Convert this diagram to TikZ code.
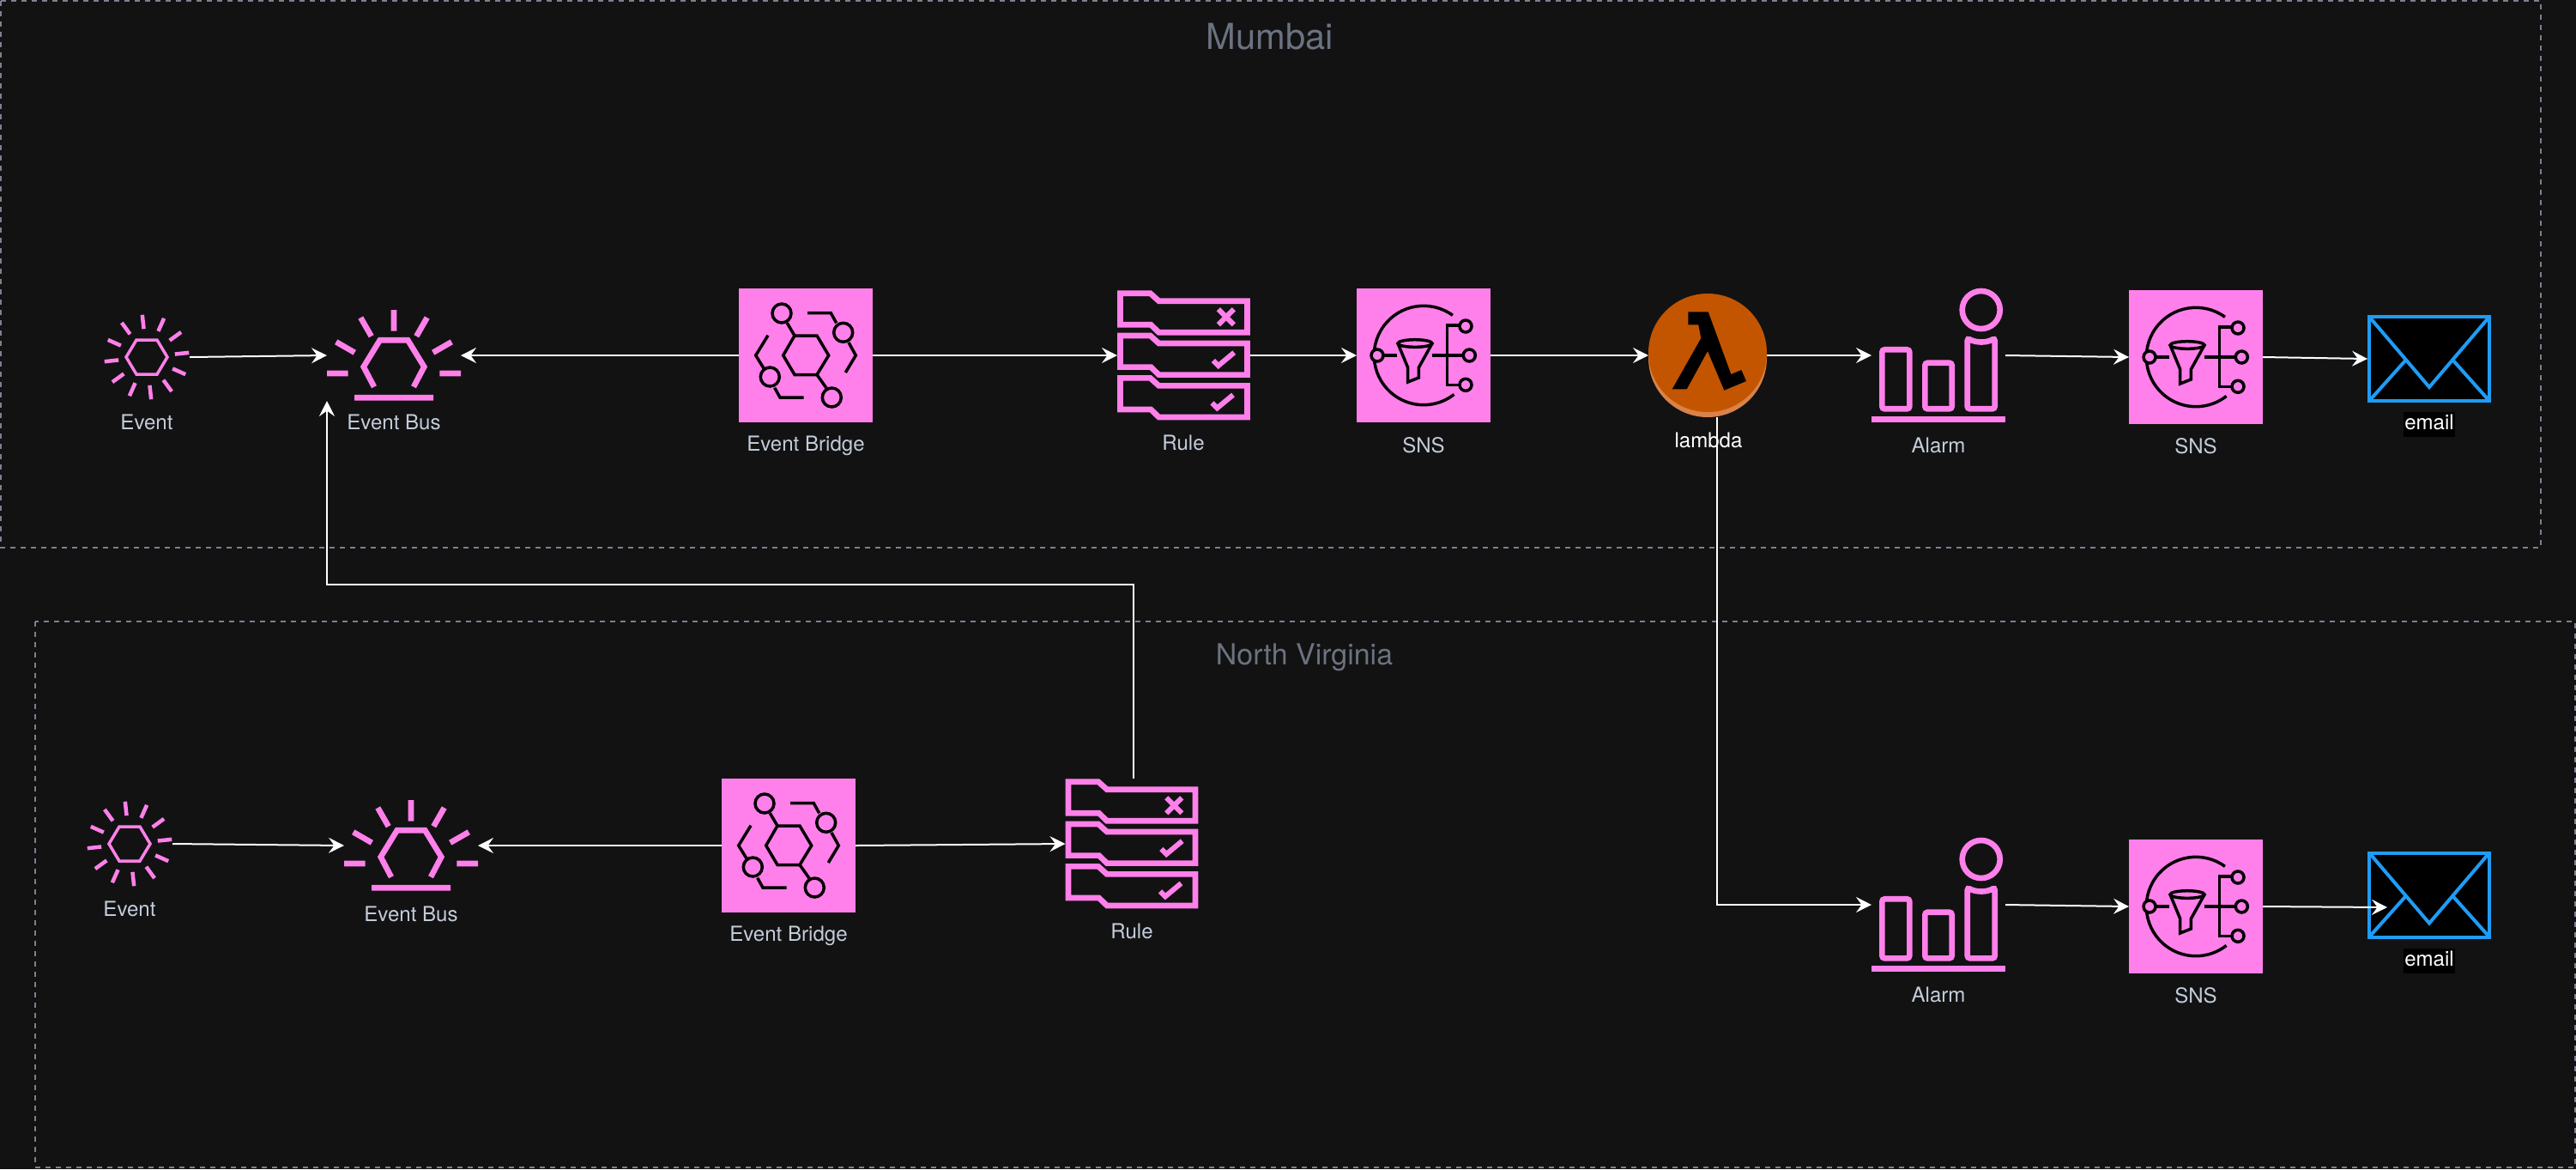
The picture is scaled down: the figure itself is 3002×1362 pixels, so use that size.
\documentclass[tikz,border=0pt]{standalone}
\usepackage{fontspec}
\setmainfont{TeX Gyre Heros}
\usetikzlibrary{arrows.meta}
\definecolor{darkbg}{HTML}{121212}
\definecolor{iconpink}{HTML}{FF80EA}
\definecolor{mailblue}{HTML}{1F9CF5}
\definecolor{framegray}{HTML}{7C8090}
\definecolor{titlegray}{HTML}{6B7280}
\definecolor{labelgray}{HTML}{C3CCDB}
\definecolor{lamorange}{HTML}{C45500}
\definecolor{lamshade}{HTML}{D9824A}
\tikzset{
  spot/.style={inner sep=0pt,outer sep=0pt},
  evspot/.style={spot,minimum width=20mm,minimum height=20mm},
  busspot/.style={spot,minimum width=31.2mm,minimum height=21.2mm},
  boxspot/.style={spot,fill=iconpink,minimum width=31.2mm,minimum height=31.2mm},
  rulespot/.style={spot,minimum width=31mm,minimum height=30.4mm},
  lamspot/.style={spot,minimum width=27.6mm,minimum height=28.8mm},
  mailspot/.style={draw=mailblue,fill=black,line width=.8mm,inner sep=0pt,minimum width=28mm,minimum height=19.6mm},
  lbl/.style={anchor=base,inner sep=0pt,text=labelgray,font=\fontsize{13.7}{16}\selectfont},
  whitelbl/.style={lbl,text=white},
  maillbl/.style={whitelbl,fill=black,text height=4mm,text depth=1.8mm,inner xsep=.2mm},
  region/.style={draw=framegray,line width=.4mm,dash pattern=on 1.2mm off 1.2mm},
  flow/.style={draw=white,line width=.4mm,-{Stealth[length=3.6mm,width=3.6mm,inset=1.3mm]}},
  ink/.style={draw=black,line width=.7mm},
  pinkthin/.style={draw=iconpink,line width=.7mm},
  pinkray/.style={draw=iconpink,line width=.9mm},
  pinkthick/.style={draw=iconpink,line width=1.33mm},
  ringdot/.style={ink,fill=iconpink},
  eventicon/.pic={
    \draw[pinkthin] (-24,0) -- (-12,20) -- (12,20) -- (24,0) -- (12,-20) -- (-12,-20) -- cycle;
    \draw[pinkray] (96:33) -- (96:49.5) (66:33) -- (66:49.5) (36:33) -- (36:49.5) (6:33) -- (6:49.5)
      (-24:33) -- (-24:49.5) (-54:33) -- (-54:49.5) (-84:33) -- (-84:49.5) (-114:33) -- (-114:49.5)
      (-144:33) -- (-144:49.5) (-174:33) -- (-174:49.5) (156:33) -- (156:49.5) (126:33) -- (126:49.5);
  },
  busicon/.pic={
    \draw[pinkthick] (-23,-36.7) -- (-35.3,-13.3) -- (-16.3,17.7) -- (16.3,17.7) -- (35.3,-13.3) -- (23,-36.7);
    \draw[pinkthick] (0,53) -- (0,28.3) (-38.7,44) -- (-26.3,22.3) (38.7,44) -- (26.3,22.3)
      (-67.3,15.7) -- (-45.7,3.3) (67.3,15.7) -- (45.7,3.3)
      (-78,-21) -- (-53.3,-21) (78,-21) -- (53.3,-21) (-46,-49.3) -- (46,-49.3);
  },
  bridgeicon/.pic={
    \draw[ink] (-26.3,0) -- (-13,23) -- (13,23) -- (26.7,0) -- (13,-22.5) -- (-13,-22.5) -- cycle;
    \draw[ink] (-13,23) -- (-21.7,37.7) (13,-22.5) -- (24,-38);
    \draw[ink] (2,49.3) -- (29.3,49.3) -- (35.7,37.7) (50,15) -- (58.3,0) -- (46.3,-20);
    \draw[ink] (-44,23.3) -- (-58.3,0) -- (-49,-15) (-36.3,-37.7) -- (-30,-49) -- (-2.3,-49);
    \draw[ringdot] (-28,49) circle[radius=11];
    \draw[ringdot] (43.7,26.7) circle[radius=11];
    \draw[ringdot] (-41.7,-25) circle[radius=11];
    \draw[ringdot] (30.3,-49) circle[radius=11];
  },
  snsicon/.pic={
    \draw[ink] (54:57.7) arc[start angle=54,end angle=308,radius=57.7];
    \draw[ink] (-45.7,0) -- (-30.7,0) (10.3,0) -- (45,0);
    \draw[ink] (41,35) -- (27.7,35) -- (27.7,-34.3) -- (41,-34.3);
    \draw[ink] (-30,14) -- (-18.3,-14.3) -- (-18.3,-31) -- (-5.7,-26) -- (-5.7,-14.3) -- (10,14);
    \draw[ink] (-10,14) ellipse[x radius=20,y radius=4.3];
    \draw[ringdot] (-54,0) circle[radius=7];
    \draw[ringdot] (49,34) circle[radius=7];
    \draw[ringdot] (53.3,0) circle[radius=7];
    \draw[ringdot] (49,-34.3) circle[radius=7];
  },
  ruletag/.pic={
    \draw[pinkthick] (-74,72.3) -- (-39,72.3) -- (-29,63.3) -- (74,63.3) -- (74,26.7) -- (-29,26.7) -- (-38.3,35.7) -- (-74,35.7) -- cycle;
  },
  ruleicon/.pic={
    \pic at (0,0) {ruletag};
    \pic at (0,-49.3) {ruletag};
    \pic at (0,-98.7) {ruletag};
    \draw[draw=iconpink,line width=1.2mm] (40.3,35.7) -- (58.3,53.7) (40.3,53.7) -- (58.3,35.7);
    \draw[draw=iconpink,line width=1.2mm] (34.3,-6) -- (40.3,-12) -- (58.7,3.3);
    \draw[draw=iconpink,line width=1.2mm] (33,-55.3) -- (39,-61.3) -- (57.5,-46);
  },
  alarmicon/.pic={
    \draw[pinkthick,rounded corners=.6mm] (-65.7,6.7) rectangle (-33.7,-62.3);
    \draw[pinkthick,rounded corners=.6mm] (-15.7,-8.7) rectangle (15.7,-62.3);
    \draw[pinkthick,rounded corners=.6mm] (33.7,-62.3) -- (33.7,20) .. controls (44,14.5) and (56,14.5) .. (65.7,20) -- (65.7,-62.3) -- cycle;
    \draw[pinkthick] (49.7,53) circle[radius=22];
    \fill[iconpink] (-77.7,-71.3) rectangle (77.7,-78);
  },
  lambdaicon/.pic={
    \fill[lamshade] (0,-3) circle[radius=69];
    \fill[lamorange] (0,3) circle[radius=69];
    \fill[black] (-22.7,50.7) -- (.7,50.7) -- (27.3,-22) -- (39.3,-17) -- (45,-30) -- (19.3,-40.7) -- (0,5)
      -- (-24.3,-39.3) -- (-41.3,-39.3) -- (-7.7,20) -- (-10.7,35.7) -- (-22.7,35.7) -- cycle;
  },
  mailicon/.pic={
    \draw[draw=mailblue,line width=.8mm] (-70,49) -- (0,-33) -- (70,49);
    \draw[draw=mailblue,line width=.8mm] (-70,-49) -- (-27,-1) (70,-49) -- (27,-1);
  }
}
\begin{document}
\begin{tikzpicture}[x=.2mm,y=.2mm]
\useasboundingbox (0,0) rectangle (3002,-1362);
\fill[darkbg] (0,0) rectangle (3002,-1362);
\draw[region] (1,-1) rectangle (2961,-638);
\draw[region] (41,-724) rectangle (3001,-1360);
\node[anchor=base,inner sep=0pt,text=titlegray,font=\fontsize{23.7}{28}\selectfont] (mumbai) at (1480,-57) {Mumbai};
\node[anchor=base,inner sep=0pt,text=titlegray,font=\fontsize{19.3}{23}\selectfont] (virginia) at (1520,-774) {North Virginia};
% upper row
\node[evspot] (evm) at (171,-416) {};
\node[busspot] (busm) at (459,-414) {};
\node[boxspot] (ebm) at (939,-414) {};
\node[rulespot] (rulem) at (1379.5,-414) {};
\node[boxspot] (snsm) at (1659,-414) {};
\node[lamspot] (lam) at (1990,-414) {};
\node[boxspot,fill=none] (alarmm) at (2259,-414) {};
\node[boxspot] (snsa) at (2559,-416) {};
\node[mailspot] (mailm) at (2831,-418) {};
\pic at (evm) {eventicon};
\pic at (busm) {busicon};
\pic at (ebm) {bridgeicon};
\pic at (rulem) {ruleicon};
\pic at (snsm) {snsicon};
\pic at (lam) {lambdaicon};
\pic at (alarmm) {alarmicon};
\pic at (snsa) {snsicon};
\pic at (mailm) {mailicon};
\node[lbl] (evmt) at (171,-500) {Event};
\node[lbl] (busmt) at (459,-500) {Event Bus};
\node[lbl] (ebmt) at (939,-525) {Event Bridge};
\node[lbl] (rulemt) at (1379,-524) {Rule};
\node[lbl] (snsmt) at (1659,-527) {SNS};
\node[whitelbl] (lamt) at (1991,-521) {lambda};
\node[lbl] (alarmmt) at (2259,-527) {Alarm};
\node[lbl] (snsat) at (2559,-528) {SNS};
\node[maillbl] (mailmt) at (2831,-500) {email};
% lower row
\node[evspot] (evb) at (151,-983) {};
\node[busspot] (busb) at (479,-985) {};
\node[boxspot] (ebb) at (919,-985) {};
\node[rulespot] (ruleb) at (1319,-983) {};
\node[boxspot,fill=none] (alarmb) at (2259,-1054) {};
\node[boxspot] (snsb) at (2559,-1056) {};
\node[mailspot] (mailb) at (2831,-1042.5) {};
\pic at (evb) {eventicon};
\pic at (busb) {busicon};
\pic at (ebb) {bridgeicon};
\pic at (ruleb) {ruleicon};
\pic at (alarmb) {alarmicon};
\pic at (snsb) {snsicon};
\pic at (mailb) {mailicon};
\node[lbl] (evbt) at (151,-1067) {Event};
\node[lbl] (busbt) at (479,-1073) {Event Bus};
\node[lbl] (ebbt) at (919,-1096) {Event Bridge};
\node[lbl] (rulebt) at (1319,-1093) {Rule};
\node[lbl] (alarmbt) at (2259,-1167) {Alarm};
\node[lbl] (snsbt) at (2559,-1168) {SNS};
\node[maillbl] (mailbt) at (2831,-1125) {email};
% connectors
\coordinate (bend) at (1321,-681);
\coordinate (mailin) at (2782,-1057);
\draw[flow] (evm.east) -- (busm.west);
\draw[flow] (ebm.west) -- (busm.east);
\draw[flow] (ebm.east) -- (rulem.west);
\draw[flow] (rulem.east) -- (snsm.west);
\draw[flow] (snsm.east) -- (lam.west);
\draw[flow] (lam.east) -- (alarmm.west);
\draw[flow] (alarmm.east) -- (snsa.west);
\draw[flow] (snsa.east) -- (mailm.west);
\draw[flow] (evb.east) -- (busb.west);
\draw[flow] (ebb.west) -- (busb.east);
\draw[flow] (ebb.east) -- (ruleb.west);
\draw[flow] ([xshift=.4mm]ruleb.north) -- (bend) -| (busm.south west);
\draw[flow] ([xshift=2.2mm]lam.south) |- (alarmb.west);
\draw[flow] (alarmb.east) -- (snsb.west);
\draw[flow] (snsb.east) -- (mailin);
\end{tikzpicture}
\end{document}
